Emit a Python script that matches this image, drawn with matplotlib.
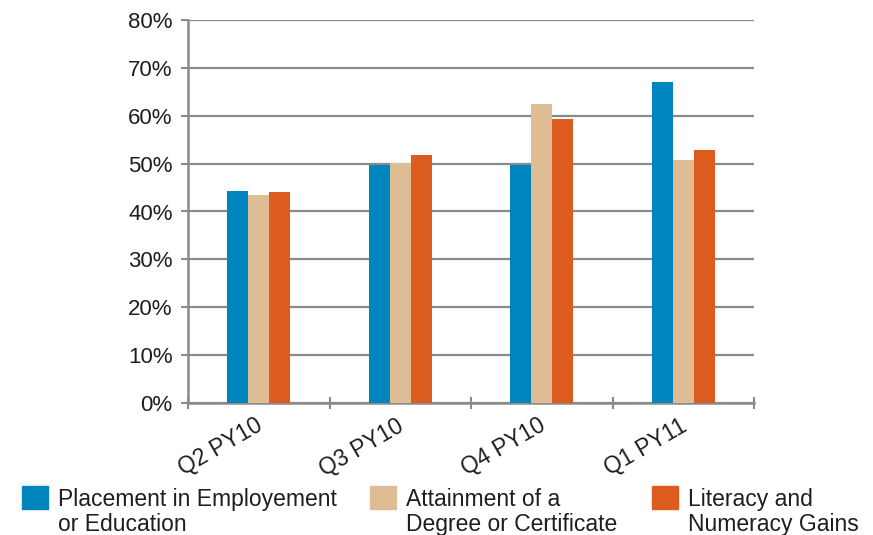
import matplotlib
matplotlib.use("Agg")
import matplotlib.pyplot as plt
import matplotlib.transforms as mtransforms
from matplotlib.patches import Rectangle
import numpy as np

plt.rcParams["font.family"] = ["Liberation Sans", "DejaVu Sans"]

# ---- data ----
trimestres = ["Q2 PY10", "Q3 PY10", "Q4 PY10", "Q1 PY11"]
series = [
    "Placement in Employement\nor Education",
    "Attainment of a\nDegree or Certificate",
    "Literacy and\nNumeracy Gains",
]
colocacion = [44.3, 49.7, 49.7, 67.0]
titulo = [43.5, 50.2, 62.4, 50.8]
alfabetizacion = [44.1, 51.8, 59.4, 52.9]
valores = [colocacion, titulo, alfabetizacion]
colores = ["#0086BF", "#DEBD95", "#DC5B1E"]

GRIS = "#8A8A8A"
TEXTO = "#1E1E1E"

fig = plt.figure(figsize=(8.73, 5.35), dpi=100)
ax = fig.add_axes([188 / 873, 1 - 403 / 535, (754 - 188) / 873, (403 - 20) / 535])

x = np.arange(len(trimestres))
ancho = 0.148
for i, (vals, col) in enumerate(zip(valores, colores)):
    ax.bar(x + (i - 1) * ancho, vals, width=ancho, color=col, zorder=3)

ax.set_xlim(-0.5, len(trimestres) - 0.5)
ax.set_ylim(0, 80)
ax.set_yticks(range(0, 81, 10))
ax.set_yticklabels([f"{v}%" for v in range(0, 81, 10)], fontsize=16)
ax.yaxis.grid(True, color=GRIS, linewidth=1.6, zorder=0)
ax.set_axisbelow(True)

# ticks de categoria en los limites
ax.set_xticks(x)
ax.set_xticklabels(trimestres, fontsize=16.5, rotation=30, ha="right",
                   va="top", rotation_mode="anchor")
ax.set_xticks(np.arange(-0.5, len(trimestres)), minor=True)
ax.tick_params(axis="x", which="major", length=0, pad=8)
ax.tick_params(axis="x", which="minor", length=8, direction="inout",
               color=GRIS, width=1.5)
ax.tick_params(axis="y", length=5, direction="out", color=GRIS, width=1.5,
               pad=6, labelcolor=TEXTO)
desplaza = mtransforms.ScaledTranslation(-3 / 72, 0, fig.dpi_scale_trans)
for lab in ax.get_xticklabels():
    lab.set_transform(lab.get_transform() + desplaza)
    lab.set_color(TEXTO)

for lado in ["top", "right"]:
    ax.spines[lado].set_visible(False)
for lado in ["left", "bottom"]:
    ax.spines[lado].set_color(GRIS)
    ax.spines[lado].set_linewidth(1.8)

# ---- leyenda manual ----
pos_x = [22, 370, 652]
for px, nombre, col in zip(pos_x, series, colores):
    fig.patches.append(Rectangle((px / 873, 1 - 509 / 535), 26 / 873, 23 / 535,
                                 transform=fig.transFigure, color=col))
    fig.text((px + 36) / 873, 1 - 488 / 535, nombre, fontsize=16.5,
             va="top", ha="left", linespacing=1.12, color=TEXTO)

fig.savefig("out.png", dpi=100)
